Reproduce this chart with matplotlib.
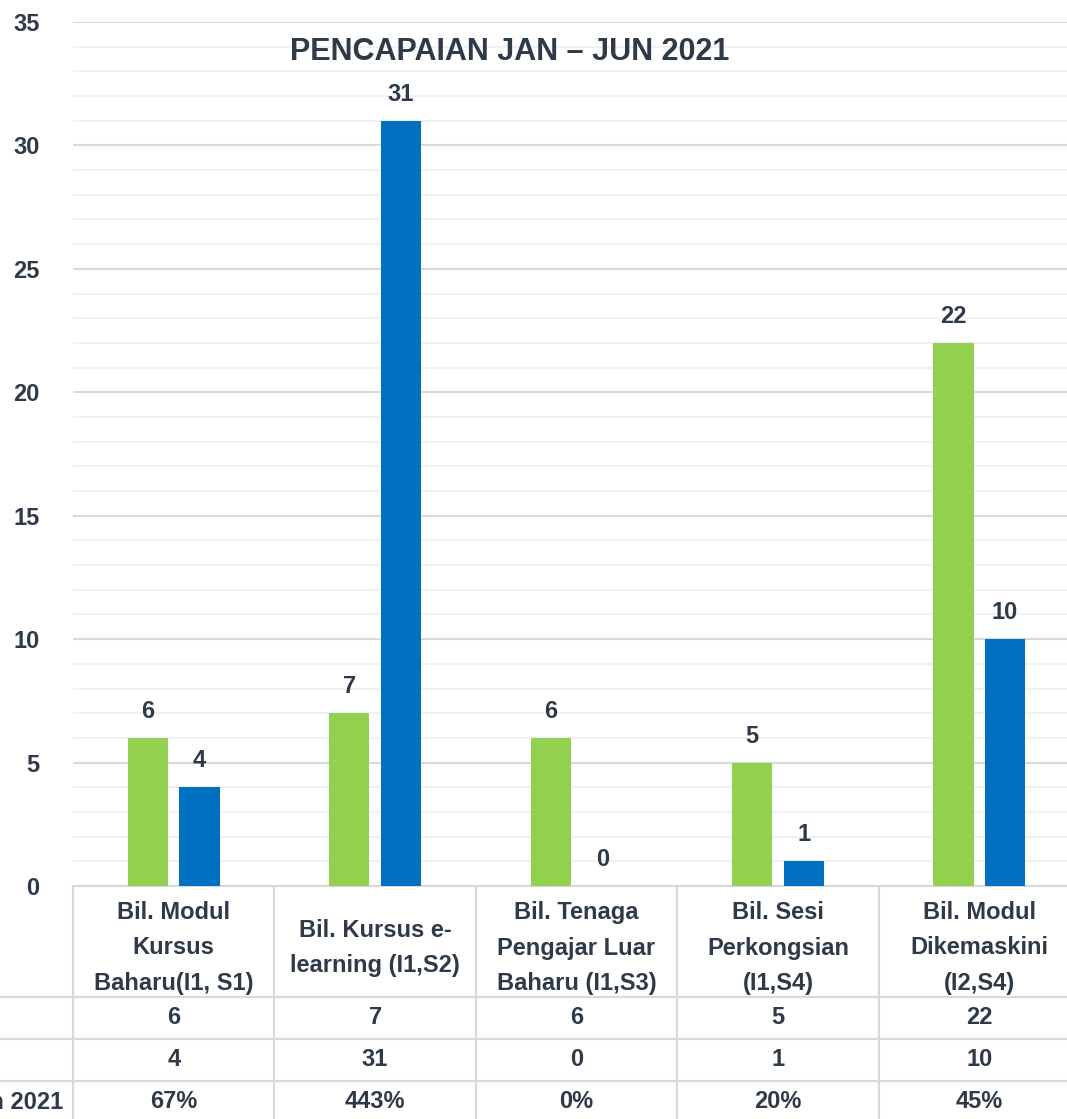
import matplotlib.pyplot as plt
from matplotlib.ticker import MultipleLocator
import numpy as np

plt.rcParams['font.family'] = ['Liberation Sans', 'DejaVu Sans']
plt.rcParams['font.weight'] = 'bold'

categories = ['Bil. Modul\nKursus\nBaharu(I1, S1)', 'Bil. Kursus e-\nlearning (I1,S2)',
              'Bil. Tenaga\nPengajar Luar\nBaharu (I1,S3)', 'Bil. Sesi\nPerkongsian\n(I1,S4)',
              'Bil. Modul\nDikemaskini\n(I2,S4)']
sasaran = [6, 7, 6, 5, 22]
pencapaian = [4, 31, 0, 1, 10]
peratus = ['67%', '443%', '0%', '20%', '45%']
# only the tail of the last row label is visible in the original
row_labels = ['', '', '% Pencapaian Jan - Jun 2021']

GREEN = '#92D050'
BLUE = '#0070C0'
TXT = '#2E3A48'
GRID = '#D9D9D9'

W, H = 1067, 1119
fig = plt.figure(figsize=(W / 100, H / 100), dpi=100)

# axes geometry in pixels
left, right, top, bottom = 73, 1080, 22, 886
ax = fig.add_axes([left / W, (H - bottom) / H, (right - left) / W, (bottom - top) / H])

x = np.arange(len(categories))
bw = 0.2
off = 0.128
b1 = ax.bar(x - off, sasaran, bw, color=GREEN, zorder=3)
b2 = ax.bar(x + off, pencapaian, bw, color=BLUE, zorder=3)
for bars in (b1, b2):
    for r in bars:
        ax.annotate(str(int(r.get_height())), (r.get_x() + r.get_width() / 2, r.get_height()),
                    xytext=(0, 19), textcoords='offset points', ha='center', va='center',
                    fontsize=17, color=TXT, fontweight='bold')

ax.set_xlim(-0.5, len(categories) - 0.5)
ax.set_ylim(0, 35)
ax.yaxis.set_major_locator(MultipleLocator(5))
ax.yaxis.set_minor_locator(MultipleLocator(1))
ax.grid(True, which='major', axis='y', color=GRID, linewidth=1.5, zorder=0)
ax.grid(True, which='minor', axis='y', color='#F0F0F0', linewidth=1.3, zorder=0)
for s in ['top', 'right', 'left']:
    ax.spines[s].set_visible(False)
ax.spines['bottom'].set_color(GRID)
ax.spines['bottom'].set_linewidth(1.5)
ax.set_xticks([])
ax.tick_params(axis='y', which='both', length=0, pad=24, labelsize=17, labelcolor=TXT)
for t in ax.get_yticklabels():
    t.set_fontweight('bold')

fig.text(510 / W, 1 - 52 / H, 'PENCAPAIAN JAN \u2013 JUN 2021', ha='center', va='center',
         fontsize=22, fontweight='bold', color=TXT)

# data table below the plot, in pixel coordinates
tab = fig.add_axes([left / W, 0, (right - left) / W, (H - bottom) / H])
tab.set_xlim(-0.5, len(categories) - 0.5)
tab.set_ylim(H - bottom, 0)
tab.axis('off')
rows_y = [0, 111, 153, 195, 237]
px = len(categories) / (right - left)  # data units per pixel
for i in range(len(categories) + 1):
    tab.plot([i - 0.5, i - 0.5], [0, H - bottom], color=GRID, lw=1.5, clip_on=False)
for yy in rows_y[1:4]:
    tab.plot([-0.5 - left * px, len(categories) - 0.5], [yy, yy], color=GRID, lw=1.5, clip_on=False)

for i, c in enumerate(categories):
    tab.text(i, 62, c, ha='center', va='center', fontsize=17, color=TXT,
             fontweight='bold', linespacing=1.68)
for r, vals in enumerate([sasaran, pencapaian, peratus]):
    yc = (rows_y[r + 1] + rows_y[r + 2]) / 2
    for i, v in enumerate(vals):
        tab.text(i, yc, str(v), ha='center', va='center', fontsize=17, color=TXT, fontweight='bold')
    if row_labels[r]:
        tab.text(-0.5 - 10 * px, yc, row_labels[r], ha='right', va='center', fontsize=17,
                 color=TXT, fontweight='bold', clip_on=False)

fig.savefig('out.png', dpi=100)
